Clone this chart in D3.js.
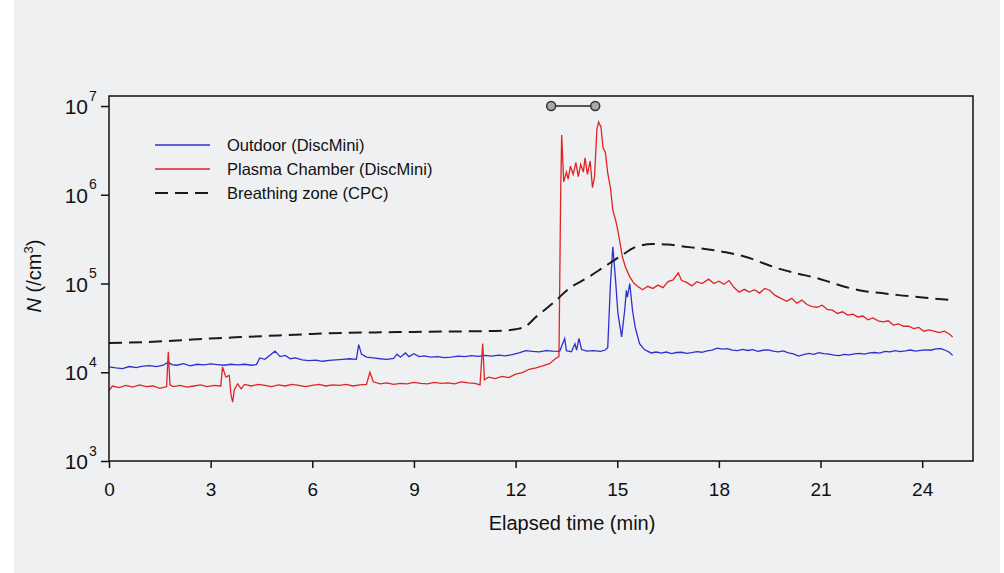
<!DOCTYPE html>
<html>
<head>
<meta charset="utf-8">
<script src="https://cdn.jsdelivr.net/npm/d3@7"></script>
<style>
  body { margin: 0; background: #ffffff; }
  text { font-family: 'Liberation Sans', Arial, sans-serif; fill: #111; }
</style>
</head>
<body>
<div id="chart"></div>
<script>
// Elapsed time (min), N (/cm3)
const outdoorSeries = [
  [0.0, 11500], [0.2, 11200], [0.4, 11000], [0.6, 11600], [0.8, 11300], [1.0, 11700], [1.2, 11900],
  [1.4, 11600], [1.6, 12000], [1.75, 13000], [1.85, 12200], [2.0, 12000], [2.2, 12500], [2.4, 11800],
  [2.6, 12300], [2.8, 12100], [3.0, 12400], [3.2, 12200], [3.4, 12000], [3.6, 12300], [3.8, 12100],
  [4.0, 12300], [4.2, 12000], [4.35, 12200], [4.45, 14500], [4.6, 14000], [4.75, 15500], [4.9, 17300],
  [5.05, 15000], [5.2, 15500], [5.35, 14200], [5.5, 14500], [5.7, 13800], [5.9, 13500], [6.1, 13700],
  [6.3, 13300], [6.5, 13600], [6.7, 13800], [6.9, 14000], [7.1, 14200], [7.3, 14000], [7.37, 20500],
  [7.45, 16000], [7.6, 14800], [7.8, 14500], [8.0, 14200], [8.2, 14000], [8.4, 14300], [8.5, 16000],
  [8.6, 14800], [8.75, 16500], [8.85, 15000], [9.0, 16200], [9.15, 15000], [9.3, 15300], [9.5, 14800],
  [9.7, 15000], [9.9, 14600], [10.1, 14800], [10.3, 15200], [10.5, 15000], [10.7, 15400], [10.9, 15100],
  [11.1, 15500], [11.3, 15200], [11.5, 15600], [11.7, 15300], [11.9, 15800], [12.1, 16500], [12.3, 17500],
  [12.5, 17200], [12.7, 17000], [12.9, 17500], [13.1, 17300], [13.3, 17200], [13.45, 24000], [13.5, 17500],
  [13.65, 17000], [13.75, 21000], [13.8, 17800], [13.87, 24000], [13.95, 18000], [14.1, 17300], [14.3, 17500],
  [14.5, 17200], [14.65, 17800], [14.72, 19000], [14.8, 100000], [14.87, 260000], [14.95, 110000],
  [15.02, 46000], [15.13, 25000], [15.22, 50000], [15.27, 84000], [15.3, 70000], [15.37, 100000],
  [15.45, 50000], [15.53, 32000], [15.66, 21000], [15.8, 18000], [16.0, 16500], [16.15, 16900],
  [16.3, 16400], [16.45, 16900], [16.6, 16200], [16.75, 16700], [16.9, 16800], [17.05, 16300],
  [17.2, 16600], [17.35, 17100], [17.5, 16800], [17.65, 17400], [17.8, 17800], [17.95, 18700],
  [18.1, 18200], [18.25, 18500], [18.4, 17800], [18.55, 17500], [18.7, 18100], [18.85, 17600],
  [19.0, 18000], [19.15, 17200], [19.3, 17700], [19.45, 17900], [19.6, 17300], [19.75, 17000],
  [19.9, 17400], [20.05, 16500], [20.2, 16100], [20.35, 15200], [20.5, 15800], [20.65, 16300],
  [20.8, 15900], [20.95, 16600], [21.1, 16200], [21.25, 16000], [21.4, 15600], [21.55, 15400],
  [21.7, 15900], [21.85, 15700], [22.0, 16100], [22.15, 16300], [22.3, 16000], [22.45, 16500],
  [22.6, 16700], [22.75, 16400], [22.9, 17200], [23.05, 17000], [23.2, 17500], [23.35, 17100],
  [23.5, 17400], [23.65, 17800], [23.8, 17300], [23.95, 17600], [24.1, 17900], [24.25, 17700],
  [24.4, 18300], [24.55, 18500], [24.7, 17600], [24.8, 16800], [24.9, 15500]
]

const chamberSeries = [
  [0.0, 6200], [0.1, 7000], [0.3, 6700], [0.5, 7100], [0.7, 6800], [0.9, 7200], [1.1, 6900], [1.3, 7000],
  [1.5, 6600], [1.7, 6900], [1.75, 17000], [1.8, 7200], [1.9, 6900], [2.1, 7100], [2.3, 6800], [2.5, 7000],
  [2.7, 7200], [2.9, 6900], [3.1, 7100], [3.3, 7000], [3.35, 11500], [3.45, 8800], [3.55, 9200], [3.6, 5600],
  [3.65, 4600], [3.7, 6400], [3.8, 7400], [3.9, 6500], [4.0, 7300], [4.2, 7000], [4.4, 7300], [4.6, 7100],
  [4.8, 6900], [5.0, 7200], [5.2, 7000], [5.4, 7300], [5.6, 7100], [5.8, 6900], [6.0, 7100], [6.2, 7300],
  [6.4, 7000], [6.6, 7200], [6.8, 7100], [7.0, 7300], [7.2, 7000], [7.4, 7200], [7.6, 7300], [7.7, 10000],
  [7.8, 7800], [8.0, 7400], [8.2, 7600], [8.4, 7300], [8.6, 7500], [8.8, 7400], [9.0, 7700], [9.2, 7500],
  [9.4, 7400], [9.6, 7700], [9.8, 7500], [10.0, 7600], [10.2, 7400], [10.4, 7800], [10.6, 7600], [10.8, 7500],
  [10.95, 7200], [11.03, 21000], [11.08, 8200], [11.2, 8800], [11.4, 8500], [11.6, 9000], [11.8, 8700],
  [12.0, 9500], [12.2, 9900], [12.4, 10800], [12.6, 11200], [12.8, 11800], [13.0, 12500], [13.2, 14500],
  [13.28, 15000], [13.33, 1000000], [13.36, 4700000], [13.42, 1400000], [13.5, 1800000], [13.55, 1500000],
  [13.62, 2100000], [13.7, 1700000], [13.78, 2300000], [13.85, 1600000], [13.92, 2200000], [14.0, 1800000],
  [14.05, 2600000], [14.12, 1700000], [14.2, 2400000], [14.27, 1200000], [14.33, 1600000], [14.4, 5500000],
  [14.45, 6600000], [14.52, 5800000], [14.58, 3400000], [14.65, 3000000], [14.72, 1750000], [14.8, 1200000],
  [14.87, 670000], [14.95, 520000], [15.0, 430000], [15.08, 290000], [15.15, 200000], [15.25, 150000],
  [15.37, 119000], [15.5, 100000], [15.62, 92000], [15.75, 85000], [15.9, 93000], [16.05, 88000],
  [16.2, 96000], [16.35, 90000], [16.5, 105000], [16.65, 110000], [16.8, 132000], [16.9, 108000],
  [17.05, 103000], [17.2, 94000], [17.35, 105000], [17.5, 100000], [17.7, 112000], [17.85, 100000],
  [18.0, 106000], [18.15, 98000], [18.3, 108000], [18.45, 90000], [18.6, 80000], [18.75, 86000],
  [18.9, 80000], [19.05, 85000], [19.2, 78000], [19.35, 88000], [19.5, 84000], [19.65, 74000], [19.8, 69000],
  [20.0, 63000], [20.15, 68000], [20.3, 60000], [20.45, 65000], [20.6, 58000], [20.75, 55000], [20.9, 54000],
  [21.05, 57000], [21.2, 51000], [21.35, 50000], [21.5, 46000], [21.65, 48000], [21.8, 44000], [21.95, 45000],
  [22.1, 42000], [22.25, 43000], [22.4, 39000], [22.55, 41000], [22.7, 38000], [22.85, 37000], [23.0, 38000],
  [23.15, 34000], [23.3, 35000], [23.45, 33000], [23.6, 33000], [23.75, 31000], [23.9, 32000], [24.05, 29000],
  [24.2, 30000], [24.35, 29000], [24.5, 28000], [24.65, 29000], [24.8, 27000], [24.9, 25000]
]

const breathingSeries = [
  [0, 21400], [1, 21800], [2, 22800], [3, 24000], [4, 25000], [5, 26000], [6, 27000], [7, 27800],
  [8, 28200], [9, 28500], [10, 28800], [11, 29000], [11.7, 29500], [12.0, 30500], [12.3, 33000],
  [12.6, 42000], [12.9, 52000], [13.1, 60000], [13.6, 89000], [14.1, 115000], [14.57, 150000],
  [15.07, 200000], [15.57, 260000], [16.05, 279000], [16.5, 275000], [17.0, 260000], [17.4, 250000],
  [18.2, 225000], [18.9, 194000], [19.3, 170000], [19.7, 150000], [20.3, 130000], [20.9, 115000],
  [21.4, 100000], [21.86, 89000], [22.3, 82000], [22.8, 78000], [23.3, 74000], [23.8, 71000],
  [24.3, 68000], [24.9, 65000]
]

const seriesNames = ['Outdoor (DiscMini)', 'Plasma Chamber (DiscMini)', 'Breathing zone (CPC)']
const xTicks = [0, 3, 6, 9, 12, 15, 18, 21, 24]
const yTickExponents = [3, 4, 5, 6, 7]
const plasmaPeriod = [13.05, 14.35]

const width = 1004
const height = 573
const margin = { left: 109, right: 31, top: 96, bottom: 112 }

let svg = d3.select('#chart')
            .append('svg')
            .attr('width', width)
            .attr('height', height)

// Grey backdrop of the figure
svg.append('rect')
  .attr('x', 14)
  .attr('y', 0)
  .attr('width', 986)
  .attr('height', height)
  .attr('fill', '#eff0f1')

// Scales
let xScale = d3.scaleLinear()
  .domain([0, 25.5])
  .range([margin.left, width - margin.right])

let yScale = d3.scaleLog()
  .domain([1e3, Math.pow(10, 7.113)])
  .range([height - margin.bottom, margin.top])

// Axes
let xAxis = d3.axisBottom(xScale)
  .tickValues(xTicks)
  .tickSize(7)
  .tickPadding(15)

let yAxis = d3.axisLeft(yScale)
  .tickValues(yTickExponents.map((e) => Math.pow(10, e)))
  .tickSize(8)
  .tickPadding(5)
  .tickFormat(() => '')

let gx = svg.append('g')
  .attr('transform', 'translate(0,' + (height - margin.bottom) + ')')
  .call(xAxis)
gx.select('.domain').remove()
gx.selectAll('.tick line').attr('stroke', '#111').attr('stroke-width', 1.5)
gx.selectAll('.tick text')
  .attr('font-size', '19px')
  .attr('font-family', "'Liberation Sans', Arial, sans-serif")
  .attr('fill', '#111')

let gy = svg.append('g')
  .attr('transform', 'translate(' + margin.left + ',0)')
  .call(yAxis)
gy.select('.domain').remove()
gy.selectAll('.tick line').attr('stroke', '#111').attr('stroke-width', 1.5)

// 10^n labels with a raised exponent
gy.selectAll('.tick text').each(function (d) {
  d3.select(this)
    .attr('font-size', '21px')
    .attr('font-family', "'Liberation Sans', Arial, sans-serif")
    .attr('fill', '#111')
    .attr('x', -21)
    .attr('dy', '0.36em')
    .text('10')
  d3.select(this.parentNode).append('text')
    .attr('x', -20)
    .attr('y', -6)
    .attr('text-anchor', 'start')
    .attr('font-size', '14px')
    .attr('fill', '#111')
    .text(Math.round(Math.log10(d)))
})

// Lines
let line = d3.line()
  .x((dataPoint) => xScale(dataPoint[0]))
  .y((dataPoint) => yScale(dataPoint[1]))

let smoothLine = d3.line()
  .curve(d3.curveMonotoneX)
  .x((dataPoint) => xScale(dataPoint[0]))
  .y((dataPoint) => yScale(dataPoint[1]))

svg.append('path')
  .datum(outdoorSeries)
  .attr('d', line)
  .attr('fill', 'none')
  .attr('stroke', '#2f2fd0')
  .attr('stroke-width', 1.3)

svg.append('path')
  .datum(chamberSeries)
  .attr('d', line)
  .attr('fill', 'none')
  .attr('stroke', '#e02424')
  .attr('stroke-width', 1.3)

svg.append('path')
  .datum(breathingSeries)
  .attr('d', smoothLine)
  .attr('fill', 'none')
  .attr('stroke', '#1a1a1a')
  .attr('stroke-width', 2)
  .attr('stroke-dasharray', '13,7')

// Frame
svg.append('rect')
  .attr('x', margin.left)
  .attr('y', margin.top)
  .attr('width', width - margin.left - margin.right)
  .attr('height', height - margin.top - margin.bottom)
  .attr('fill', 'none')
  .attr('stroke', '#111')
  .attr('stroke-width', 1.5)

// Plasma on marker at the top
let markerY = yScale(1e7)
svg.append('line')
  .attr('x1', xScale(plasmaPeriod[0]))
  .attr('x2', xScale(plasmaPeriod[1]))
  .attr('y1', markerY)
  .attr('y2', markerY)
  .attr('stroke', '#222')
  .attr('stroke-width', 1.5)

svg.append('g').selectAll('circle')
  .data(plasmaPeriod)
  .enter()
  .append('circle')
  .attr('cx', (d) => xScale(d))
  .attr('cy', markerY)
  .attr('r', 4.5)
  .attr('fill', '#a8a8a8')
  .attr('stroke', '#333')
  .attr('stroke-width', 1.5)

// Legend
const legendStyles = [
  { color: '#2f2fd0', dash: null, w: 1.3 },
  { color: '#e02424', dash: null, w: 1.3 },
  { color: '#1a1a1a', dash: '13,7', w: 2 }
]
let legend = svg.append('g').attr('transform', 'translate(155,145)')
seriesNames.forEach((name, i) => {
  legend.append('line')
    .attr('x1', 0)
    .attr('x2', 55)
    .attr('y1', i * 24)
    .attr('y2', i * 24)
    .attr('stroke', legendStyles[i].color)
    .attr('stroke-width', legendStyles[i].w)
    .attr('stroke-dasharray', legendStyles[i].dash)
  legend.append('text')
    .attr('x', 72)
    .attr('y', i * 24)
    .attr('dy', '0.35em')
    .attr('font-size', '16.5px')
    .text(name)
})

// Axis titles
svg.append('text')
  .attr('x', 572)
  .attr('y', 530)
  .attr('text-anchor', 'middle')
  .attr('font-size', '20px')
  .text('Elapsed time (min)')

let yTitle = svg.append('text')
  .attr('transform', 'translate(41,276) rotate(-90)')
  .attr('text-anchor', 'middle')
  .attr('font-size', '20px')
yTitle.append('tspan').attr('font-style', 'italic').text('N')
yTitle.append('tspan').text(' (/cm')
yTitle.append('tspan').attr('font-size', '13px').attr('dy', -8).text('3')
yTitle.append('tspan').attr('dy', 8).text(')')
</script>
</body>
</html>
